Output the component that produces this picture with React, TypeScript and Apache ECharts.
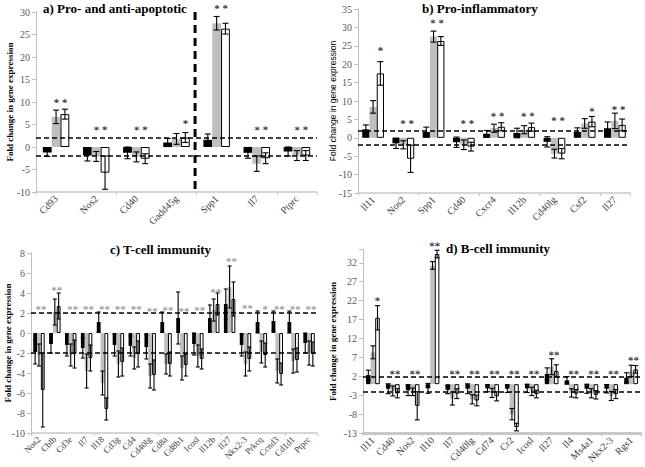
import React, { useEffect, useRef } from 'react';
import * as echarts from 'echarts';

// ---------- Panel a: Pro- and anti-apoptotic ----------
const catsA = ['Cd93', 'Nos2', 'Cd40', 'Gadd45g', 'Spp1', 'Il7', 'Ptprc'];
const blackA = [-1.2, -1.9, -1.3, 1.0, 1.6, -1.3, -1.0];
const blackErrA = [0.9, 1.2, 1.3, 0.9, 1.3, 1.2, 1.0];
const grayA = [6.7, -2.1, -2.2, 1.8, 27.5, -3.7, -1.9];
const grayErrA = [1.5, 1.1, 1.1, 1.2, 1.5, 1.7, 1.1];
const whiteA = [7.3, -5.7, -2.6, 2.1, 26.3, -2.5, -1.9];
const whiteErrA = [1.1, 3.7, 1.1, 1.1, 1.2, 1.2, 1.1];
const starsGrayA = [10.4, 4.3, 4.3, null, 31.3, 4.3, 4.3];
const starsWhiteA = [10.4, 4.3, 4.3, 5.7, 31.3, 4.3, 4.3];
const ticksA = { min: -10, max: 30, interval: 5 };

// ---------- Panel b: Pro-inflammatory ----------
const catsB = ['Il11', 'Nos2', 'Spp1', 'Cd40', 'Cxcr4', 'Il12b', 'Cd40lg', 'Csf2', 'Il27'];
const blackB = [2.3, -1.5, 1.6, -1.2, 1.1, 1.3, -1.1, 1.6, 2.6];
const blackErrB = [1.2, 1.4, 1.3, 1.4, 0.9, 1.3, 1.4, 1.1, 1.7];
const grayB = [8.4, -1.9, 27.5, -1.9, 2.6, 2.2, -4.3, 3.9, 4.6];
const grayErrB = [1.7, 1.1, 1.5, 1.3, 1.1, 1.1, 1.2, 1.3, 2.1];
const whiteB = [17.5, -5.7, 26.3, -2.4, 3.0, 2.9, -4.3, 4.4, 3.5];
const whiteErrB = [3.2, 3.7, 1.2, 1.2, 1.1, 1.1, 1.4, 1.4, 1.6];
const starsGrayB = [null, 4.5, 31.8, 4.5, 6.5, 6.5, 5.3, null, 8.3];
const starsWhiteB = [24.3, 4.5, 31.8, 4.5, 6.5, 6.5, 5.3, 7.8, 8.3];
const ticksB = { min: -15, max: 35, interval: 5 };

// ---------- Panel c: T-cell immunity ----------
const catsC = ['Nos2', 'Cblb', 'Cd3e', 'Il7', 'Il18', 'Cd3g', 'Cd4', 'Cd40lg', 'Cd8a', 'Cd8b1', 'Icosl', 'Il12b', 'Il27', 'Nkx2-3', 'Prkcq', 'Ccnd3', 'Cd1d1', 'Ptprc'];
const blackC = [-1.9, -1.1, -1.2, -1.5, 1.1, -1.2, -1.3, -1.4, 1.1, 1.5, -1.1, 1.5, 2.9, -1.2, 1.1, 1.2, 1.1, -1.0];
const blackErrC = [1.2, 0.9, 1.1, 1.0, 1.0, 1.1, 1.0, 1.2, 1.0, 2.6, 1.1, 1.3, 1.5, 1.1, 1.1, 1.0, 1.1, 1.0];
const grayC = [-2.2, 2.1, -2.2, -3.8, -5.0, -3.1, -2.5, -4.3, -3.1, -3.5, -2.3, 2.3, 4.6, -3.1, -1.9, -3.8, -2.8, -2.0];
const grayErrC = [1.1, 1.3, 1.1, 1.7, 1.2, 1.3, 1.1, 1.2, 1.0, 1.2, 1.1, 1.1, 2.1, 1.2, 1.1, 1.2, 1.2, 1.2];
const whiteC = [-5.7, 2.7, -2.1, -2.5, -7.6, -2.9, -2.1, -4.2, -3.1, -3.2, -2.6, 2.9, 3.4, -2.6, -2.2, -4.1, -2.7, -2.1];
const whiteErrC = [3.7, 1.3, 1.4, 1.3, 1.1, 1.4, 1.3, 1.5, 1.2, 1.1, 1.0, 1.1, 1.7, 1.2, 1.2, 1.1, 1.2, 1.2];
const starsGrayC = [2.6, 4.5, 2.6, 2.6, 2.6, 2.6, 2.6, 2.4, 2.5, 2.4, 2.5, 4.3, 7.4, 2.7, null, 2.6, 2.6, 2.6];
const starsWhiteC = [2.6, 4.5, 2.6, 2.6, 2.6, 2.6, 2.6, 2.4, 2.5, 2.4, 2.5, 4.3, 7.4, 2.7, 2.6, 2.6, 2.6, 2.6];
const ticksC = { min: -10, max: 8, interval: 2 };

// ---------- Panel d: B-cell immunity ----------
const catsD = ['Il11', 'Cd40', 'Nos2', 'Il10', 'Il7', 'Cd40lg', 'Cd74', 'Cr2', 'Icosl', 'Il27', 'Il4', 'Ms4a1', 'Nkx2-3', 'Rgs1'];
const blackD = [2.4, -1.2, -1.6, -1.1, -1.5, -1.2, -1.1, -1.2, -1.1, 2.7, 1.0, -1.2, -1.2, 1.7];
const blackErrD = [1.3, 1.3, 1.4, 1.3, 1.0, 1.3, 0.9, 1.0, 1.1, 1.6, 1.0, 1.2, 1.1, 1.3];
const grayD = [8.4, -1.8, -2.0, 31.3, -3.8, -4.0, -2.3, -7.9, -1.9, 4.6, -2.3, -2.4, -3.1, 3.5];
const grayErrD = [1.7, 1.3, 1.0, 1.0, 1.7, 1.2, 1.2, 1.5, 1.1, 2.1, 1.1, 1.2, 1.2, 1.5];
const whiteD = [17.5, -2.4, -5.7, 34.3, -2.5, -4.3, -3.2, -11.3, -2.6, 3.5, -2.5, -2.8, -2.6, 3.9];
const whiteErrD = [3.2, 1.2, 3.7, 1.0, 1.3, 1.4, 1.2, 1.0, 1.0, 1.6, 1.1, 1.1, 1.2, 1.0];
const starsGrayD = [null, 3.3, 3.3, 37, 3.3, 3.3, 3.3, 3.3, 3.3, 8.3, 3.3, 3.3, 3.3, 6.9];
const starsWhiteD = [22.6, 3.3, 3.3, 37, 3.3, 3.3, 3.3, 3.3, 3.3, 8.3, 3.3, 3.3, 3.3, 6.9];
const ticksD = { min: -13, max: 35.5, interval: 5 };

const titles = ['a) Pro- and anti-apoptotic', 'b) Pro-inflammatory', 'c) T-cell immunity', 'd) B-cell immunity'];
const yTitle = 'Fold change in gene expression';

const SERIF = 'Liberation Serif';
const SANS = 'Liberation Sans';

type Panel = {
  cats: string[];
  black: number[]; blackErr: number[];
  gray: number[]; grayErr: number[];
  white: number[]; whiteErr: number[];
  starsG: (number | null)[]; starsW: (number | null)[];
  ticks: { min: number; max: number; interval: number };
  grid: { left: number; top: number; width: number; height: number };
  pct: number; labelSize: number; starColor: string; zeroWidth: number; cap: number;
  pair: string; nameGap: number; nameFont: string; nameWeight: string; nameSize: number;
  titlePos: { left: number; top: number };
};

const panels: Panel[] = [
  { cats: catsA, black: blackA, blackErr: blackErrA, gray: grayA, grayErr: grayErrA, white: whiteA, whiteErr: whiteErrA,
    starsG: starsGrayA, starsW: starsWhiteA, ticks: ticksA, grid: { left: 36, top: 12, width: 281, height: 180 },
    pct: 0.22, labelSize: 10, starColor: '#000', zeroWidth: 1.5, cap: 3, pair: '* *',
    nameGap: 22, nameFont: SERIF, nameWeight: 'bold', nameSize: 9, titlePos: { left: 43, top: 2 } },
  { cats: catsB, black: blackB, blackErr: blackErrB, gray: grayB, grayErr: grayErrB, white: whiteB, whiteErr: whiteErrB,
    starsG: starsGrayB, starsW: starsWhiteB, ticks: ticksB, grid: { left: 358, top: 9, width: 272, height: 184 },
    pct: 0.24, labelSize: 10, starColor: '#000', zeroWidth: 1.5, cap: 3, pair: '* *',
    nameGap: 21, nameFont: SANS, nameWeight: 'normal', nameSize: 8.5, titlePos: { left: 422, top: 2 } },
  { cats: catsC, black: blackC, blackErr: blackErrC, gray: grayC, grayErr: grayErrC, white: whiteC, whiteErr: whiteErrC,
    starsG: starsGrayC, starsW: starsWhiteC, ticks: ticksC, grid: { left: 31, top: 253, width: 286, height: 180 },
    pct: 0.24, labelSize: 9, starColor: '#888', zeroWidth: 1.5, cap: 2, pair: '**',
    nameGap: 19, nameFont: SERIF, nameWeight: 'bold', nameSize: 9, titlePos: { left: 110, top: 243 } },
  { cats: catsD, black: blackD, blackErr: blackErrD, gray: grayD, grayErr: grayErrD, white: whiteD, whiteErr: whiteErrD,
    starsG: starsGrayD, starsW: starsWhiteD, ticks: ticksD, grid: { left: 363, top: 249.5, width: 278, height: 184 },
    pct: 0.23, labelSize: 10, starColor: '#000', zeroWidth: 3, cap: 2.5, pair: '**',
    nameGap: 26, nameFont: SERIF, nameWeight: 'bold', nameSize: 9, titlePos: { left: 446, top: 242 } },
];

function errSeries(p: number, vals: number[], errs: number[], off: number, pct: number, cap: number) {
  return {
    type: 'custom',
    xAxisIndex: 2 * p,
    yAxisIndex: p,
    z: 5,
    silent: true,
    data: vals.map((v, i) => [i, v, errs[i]]),
    renderItem: (params: any, api: any) => {
      const i = api.value(0);
      const v = api.value(1);
      const e = api.value(2);
      const band = api.coord([1, 0])[0] - api.coord([0, 0])[0];
      const x = api.coord([i, v])[0] + off * band * pct;
      const yT = api.coord([i, v + e])[1];
      const yB = api.coord([i, v - e])[1];
      const st = { stroke: '#000', lineWidth: 1.1 };
      return {
        type: 'group',
        children: [
          { type: 'line', shape: { x1: x, y1: yT, x2: x, y2: yB }, style: st },
          { type: 'line', shape: { x1: x - cap, y1: yT, x2: x + cap, y2: yT }, style: st },
          { type: 'line', shape: { x1: x - cap, y1: yB, x2: x + cap, y2: yB }, style: st },
        ],
      };
    },
  };
}

// stars: over gray and white bars (pair), white only, or gray only
function starSeries(p: number, P: Panel) {
  const band = P.grid.width / P.cats.length;
  const w = band * P.pct;
  const data: any[] = [];
  P.starsG.forEach((g, i) => {
    const s = P.starsW[i];
    let y: number | null = null;
    let text = '*';
    let dx = 0;
    if (g !== null && s !== null) { y = g; text = P.pair; dx = 0.5 * w; }
    else if (s !== null) { y = s; dx = w; }
    else if (g !== null) { y = g; dx = 0; }
    if (y !== null) {
      data.push({ value: [i, y], label: { formatter: text, offset: [dx, 2] } });
    }
  });
  return {
    type: 'scatter',
    xAxisIndex: 2 * p,
    yAxisIndex: p,
    z: 6,
    silent: true,
    symbolSize: 0,
    itemStyle: { color: 'transparent' },
    clip: false,
    data,
    label: {
      show: true, position: 'inside', color: P.starColor, fontSize: 11, fontWeight: 'bold', fontFamily: SERIF,
      rotate: 0.5,
    },
  };
}

function buildOption() {
  const grid: any[] = [];
  const xAxis: any[] = [];
  const yAxis: any[] = [];
  const series: any[] = [];
  const title: any[] = [];
  panels.forEach((P, p) => {
    grid.push({ ...P.grid, containLabel: false });
    title.push({
      text: titles[p], left: P.titlePos.left, top: P.titlePos.top, padding: 0,
      textStyle: { fontFamily: SERIF, fontWeight: 'bold', fontSize: 13, color: '#000' },
    });
    xAxis.push({
      type: 'category', gridIndex: p, data: P.cats, position: 'bottom',
      axisLine: { show: false }, axisTick: { show: false },
      axisLabel: { rotate: 45, interval: 0, fontSize: P.labelSize, fontFamily: SERIF, color: '#404040', margin: 5 },
    });
    xAxis.push({
      type: 'category', gridIndex: p, data: P.cats, position: 'bottom',
      axisLine: { show: true, onZero: true, lineStyle: { color: '#c8c8c8', width: P.zeroWidth } },
      axisTick: { show: true, length: 3, lineStyle: { color: '#c8c8c8' } },
      axisLabel: { show: false },
    });
    const t = P.ticks;
    yAxis.push({
      type: 'value', gridIndex: p, min: t.min, max: t.max, interval: t.interval,
      name: yTitle, nameLocation: 'middle', nameRotate: 90, nameGap: P.nameGap, nameMoveOverlap: false,
      nameTextStyle: { fontFamily: P.nameFont, fontWeight: P.nameWeight, fontSize: P.nameSize, color: '#000' },
      axisLine: { show: true, lineStyle: { color: '#bfbfbf' } },
      axisTick: { show: true, length: 4, lineStyle: { color: '#bfbfbf' } },
      splitLine: { show: false },
      axisLabel: {
        fontSize: 10, fontFamily: SERIF, color: '#595959', margin: 6,
        formatter: (v: number) => (Math.abs(((v - t.min) / t.interval) - Math.round((v - t.min) / t.interval)) < 1e-6 ? String(v) : ''),
      },
    });
    const bw = `${P.pct * 100}%`;
    series.push({
      type: 'bar', xAxisIndex: 2 * p, yAxisIndex: p, data: P.black, barWidth: bw, barGap: '0%',
      itemStyle: { color: '#000' },
      markLine: {
        silent: true, symbol: ['none', 'none'], label: { show: false },
        lineStyle: { color: '#000', type: [5, 3], width: 1.5 },
        data: [{ yAxis: 2 }, { yAxis: -2 }],
      },
    });
    series.push({
      type: 'bar', xAxisIndex: 2 * p, yAxisIndex: p, data: P.gray, barWidth: bw, barGap: '0%',
      itemStyle: { color: '#bfbfbf' },
    });
    series.push({
      type: 'bar', xAxisIndex: 2 * p, yAxisIndex: p, data: P.white, barWidth: bw, barGap: '0%',
      itemStyle: { color: '#fff', borderColor: '#000', borderWidth: 1 },
    });
    series.push(errSeries(p, P.black, P.blackErr, -1, P.pct, P.cap));
    series.push(errSeries(p, P.gray, P.grayErr, 0, P.pct, P.cap));
    series.push(errSeries(p, P.white, P.whiteErr, 1, P.pct, P.cap));
    series.push(starSeries(p, P));
  });
  return { animation: false, backgroundColor: '#fff', title, grid, xAxis, yAxis, series };
}

export default function App() {
  const ref = useRef<HTMLDivElement>(null);
  useEffect(() => {
    if (!ref.current) return;
    document.body.style.margin = '0';
    const chart = echarts.init(ref.current, undefined, { renderer: 'svg' });
    chart.setOption(buildOption() as any);
    const x3 = chart.convertToPixel({ xAxisIndex: 0 } as any, 3) as unknown as number;
    const x4 = chart.convertToPixel({ xAxisIndex: 0 } as any, 4) as unknown as number;
    const yTop = chart.convertToPixel({ yAxisIndex: 0 } as any, ticksA.max) as unknown as number;
    const yBot = chart.convertToPixel({ yAxisIndex: 0 } as any, ticksA.min) as unknown as number;
    const xm = (x3 + x4) / 2 - 1.5;
    chart.setOption({
      graphic: [
        { type: 'line', shape: { x1: xm, y1: yTop, x2: xm, y2: yBot }, style: { stroke: '#000', lineWidth: 3, lineDash: [8, 5] }, z: 10 },
      ],
    } as any);
    return () => chart.dispose();
  }, []);
  return <div ref={ref} style={{ width: 645, height: 467 }} />;
}
